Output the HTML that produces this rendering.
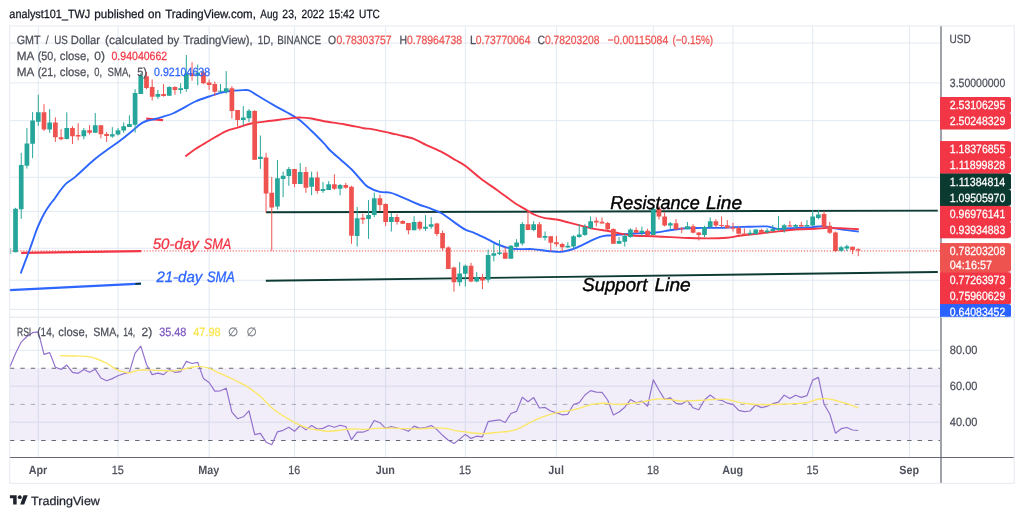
<!DOCTYPE html>
<html lang="en">
<head>
<meta charset="utf-8">
<title>GMT / US Dollar chart - TradingView</title>
<style>
html,body{margin:0;padding:0;background:#fff;}
body{width:1024px;height:517px;overflow:hidden;font-family:"Liberation Sans",sans-serif;}
svg{display:block;}
</style>
</head>
<body>
<svg width="1024" height="517" viewBox="0 0 1024 517" font-family="'Liberation Sans', sans-serif" text-rendering="geometricPrecision">
<rect width="1024" height="517" fill="#fff"/>
<path d="M38.30 26V457 M118.02 26V457 M209.12 26V457 M294.53 26V457 M385.63 26V457 M465.35 26V457 M556.45 26V457 M653.25 26V457 M732.97 26V457 M812.68 26V457 M909.48 26V457 M9.5 43.0H940 M9.5 82.9H940 M9.5 120.7H940 M9.5 177.3H940 M9.5 211.4H940 M9.5 248.3H940 M9.5 280.3H940 M9.5 309.4H940 M9.5 350.3H940 M9.5 386.2H940 M9.5 422.2H940" stroke="#dfe8f1" stroke-width="0.95" fill="none"/>
<rect x="9.5" y="368.3" width="931" height="72.2" fill="#7e57c2" fill-opacity="0.1"/>
<path d="M9.5 317.3H1014" stroke="#e6e9f0" stroke-width="1" fill="none"/>
<path d="M9.5 368.3H940M9.5 440.5H940" stroke="#666973" stroke-width="1.05" stroke-dasharray="4.4 6.033" stroke-dashoffset="-0.4" fill="none"/>
<path d="M9.5 404.4H940" stroke="#a9abb3" stroke-width="1" stroke-dasharray="4.4 6.033" stroke-dashoffset="-0.4" fill="none"/>
<path d="M9.5 250.9H940" stroke="#ef5350" stroke-width="1.7" stroke-dasharray="1.15 1.72" stroke-dashoffset="0.6" stroke-opacity="0.62" fill="none"/>
<path d="M266 212.3L937.8 210.6" stroke="#0d3b33" stroke-width="1.9" fill="none"/>
<path d="M265.8 280.8L937.8 272.0" stroke="#0d3b33" stroke-width="1.9" fill="none"/>
<path d="M21.2 252.8L141 251.2" stroke="#f23645" stroke-width="2.3" fill="none"/>
<path d="M146.2 118.6L163.1 120.2" stroke="#f23645" stroke-width="2.3" fill="none"/>
<path d="M9.5 290.1L141 283.6" stroke="#2d65ff" stroke-width="2.2" fill="none"/>
<path d="M135.3 283.9L141 283.6" stroke="#0d3b33" stroke-width="1.9" fill="none"/>
<path d="M20.7 273.5C21.4 271.6 23.5 265.9 25.0 261.9C26.5 257.9 28.3 253.4 29.7 249.5C31.1 245.6 32.2 242.3 33.5 238.7C34.8 235.1 35.7 231.9 37.4 227.9C39.1 223.9 41.5 218.5 43.6 214.7C45.7 210.8 48.0 207.4 49.8 204.8C51.6 202.2 52.7 201.3 54.4 199.0C56.1 196.7 58.0 193.5 60.0 190.9C62.0 188.3 63.7 185.8 66.3 183.4C68.9 181.0 71.0 180.5 75.6 176.6C80.2 172.7 88.6 164.4 93.8 160.0C99.0 155.6 102.5 153.2 106.9 150.0C111.3 146.8 115.7 144.0 120.0 140.8C124.3 137.6 129.4 133.3 132.6 130.7C135.8 128.1 137.2 126.6 138.9 125.3C140.6 124.0 141.1 123.4 142.6 122.6C144.1 121.8 146.3 121.0 148.0 120.5C149.7 120.0 150.1 120.2 152.7 119.6C155.2 118.9 160.0 117.6 163.3 116.6C166.7 115.6 170.0 114.7 172.8 113.5C175.7 112.3 176.6 111.7 180.4 109.7C184.2 107.7 190.6 103.7 195.4 101.5C200.2 99.3 204.9 97.9 209.1 96.5C213.3 95.1 216.8 93.9 220.6 92.9C224.4 92.0 228.0 91.3 231.9 90.8C235.8 90.3 241.2 90.2 244.0 90.1C246.8 90.0 246.9 89.6 249.0 90.4C251.1 91.2 252.6 92.5 256.7 95.0C260.8 97.5 268.8 102.3 273.7 105.1C278.6 107.9 282.1 109.6 286.3 112.0C290.5 114.4 294.7 116.4 298.9 119.5C303.1 122.6 307.2 126.8 311.4 130.8C315.6 134.8 320.9 140.2 324.0 143.4C327.1 146.6 326.9 147.2 329.7 150.0C332.5 152.8 337.3 156.8 341.0 160.0C344.7 163.2 348.4 166.2 351.7 169.5C355.0 172.8 358.3 177.1 361.0 180.0C363.7 182.9 364.8 184.9 367.9 186.9C371.0 188.9 376.2 191.0 379.9 191.9C383.6 192.8 386.6 191.9 390.0 192.6C393.4 193.3 396.9 195.1 400.0 196.3C403.1 197.6 405.7 198.7 408.8 200.1C411.9 201.5 415.1 203.0 418.9 204.5C422.7 206.0 427.6 207.4 431.4 208.9C435.2 210.4 437.7 211.1 441.5 213.3C445.3 215.5 450.1 219.4 454.1 222.1C458.1 224.8 462.0 227.9 465.4 229.7C468.8 231.5 470.4 231.2 474.2 232.8C477.9 234.4 483.9 237.5 487.9 239.4C491.9 241.3 494.6 243.1 498.0 244.5C501.4 245.9 504.6 247.1 508.0 247.9C511.4 248.7 514.0 248.9 518.1 249.1C522.2 249.3 527.8 248.8 532.7 249.1C537.7 249.4 543.8 250.6 547.8 251.0C551.8 251.4 554.1 251.7 556.6 251.8C559.1 251.9 560.2 252.1 562.9 251.6C565.6 251.1 569.8 250.1 572.9 249.1C576.0 248.1 578.8 246.7 581.7 245.3C584.6 243.9 587.6 242.3 590.5 240.9C593.4 239.5 596.6 238.0 599.3 237.1C602.0 236.2 604.2 235.8 606.9 235.5C609.6 235.2 612.9 235.2 615.7 235.0C618.6 234.8 620.6 234.5 624.0 234.2C627.4 233.9 631.1 233.7 636.3 233.4C641.5 233.1 649.5 233.0 655.2 232.5C660.9 232.0 665.3 230.9 670.3 230.2C675.3 229.5 680.2 228.7 685.4 228.3C690.6 227.9 695.8 228.0 701.7 227.9C707.6 227.8 715.4 228.0 720.6 227.9C725.9 227.8 728.6 227.3 733.2 227.1C737.8 226.9 742.4 226.9 748.0 226.8C753.6 226.7 762.0 226.1 767.0 226.4C772.0 226.8 772.8 228.7 777.7 228.9C782.6 229.2 791.2 228.2 796.6 227.9C802.0 227.7 806.4 227.7 810.4 227.4C814.4 227.1 817.6 226.2 820.5 226.2C823.4 226.1 825.1 226.6 828.0 227.1C830.9 227.6 833.0 228.2 838.1 228.9C843.2 229.7 855.3 231.2 858.8 231.6" stroke="#2d65ff" stroke-width="1.9" fill="none" stroke-linejoin="round"/>
<path d="M185.4 156.5C187.1 155.2 191.5 151.6 195.4 149.0C199.3 146.4 204.1 143.8 209.1 140.8C214.1 137.9 220.8 133.5 225.6 131.3C230.3 129.1 233.1 128.9 237.6 127.6C242.1 126.3 246.7 124.4 252.3 123.3C257.9 122.2 264.3 121.7 271.2 120.8C278.1 119.9 288.8 118.4 293.8 117.9C298.8 117.4 298.5 117.5 301.4 117.6C304.3 117.7 307.6 117.9 311.4 118.5C315.2 119.1 318.6 120.2 324.0 121.2C329.4 122.2 337.4 123.0 344.1 124.2C350.8 125.4 359.6 127.5 364.0 128.3C368.4 129.1 366.3 128.1 370.8 128.9C375.3 129.7 386.2 132.2 390.9 133.2C395.6 134.2 395.2 134.2 398.9 135.1C402.6 136.0 408.7 136.9 413.3 138.6C417.9 140.3 421.6 142.8 426.5 145.1C431.4 147.4 438.1 150.2 442.9 152.7C447.7 155.2 451.6 157.8 455.4 160.0C459.2 162.2 461.3 162.8 465.5 165.9C469.7 169.0 475.4 174.4 480.6 178.4C485.9 182.4 493.1 187.2 497.0 190.0C500.9 192.8 500.8 192.8 503.8 195.0C506.8 197.2 511.1 200.6 515.1 203.2C519.1 205.8 524.6 208.8 527.7 210.7C530.9 212.6 531.3 213.3 534.0 214.5C536.7 215.7 540.2 217.1 544.0 217.9C547.8 218.7 552.4 218.7 556.6 219.5C560.8 220.3 565.0 221.6 569.2 222.7C573.4 223.8 577.5 224.8 581.7 225.8C585.9 226.8 590.1 228.1 594.3 228.9C598.5 229.7 602.7 230.1 606.9 230.8C611.1 231.6 615.2 232.6 619.5 233.4C623.8 234.2 627.1 235.0 632.6 235.5C638.1 236.0 646.4 235.9 652.7 236.2C659.0 236.5 664.2 236.8 670.3 237.1C676.4 237.4 682.9 237.8 689.2 238.0C695.5 238.2 701.7 238.4 708.0 238.4C714.3 238.4 721.6 238.2 726.9 237.8C732.1 237.4 735.2 236.3 739.5 235.7C743.8 235.1 747.3 234.8 752.6 234.2C757.9 233.6 765.1 232.8 771.4 232.1C777.7 231.4 785.0 230.5 790.3 230.0C795.5 229.5 798.7 229.4 802.9 229.2C807.1 229.0 811.2 228.9 815.4 228.7C819.6 228.5 823.8 228.0 828.0 227.9C832.2 227.8 835.5 228.1 840.6 228.3C845.7 228.5 855.8 229.0 858.8 229.2" stroke="#f23645" stroke-width="1.9" fill="none" stroke-linejoin="round"/>
<path d="M15.52 207.8V252.2M21.22 152.8V218.8M26.91 128.1V168.6M32.61 112.0V158.2M38.30 94.8V125.8M49.69 109.1V132.8M66.77 112.3V139.3M83.85 128.1V139.3M95.24 113.0V132.8M112.32 127.1V137.8M118.02 128.1V135.5M123.71 122.4V132.8M129.40 115.3V126.9M135.10 89.2V132.6M140.79 73.3V93.9M157.87 89.9V98.7M169.26 86.2V95.8M180.65 83.3V93.7M186.34 55.0V91.8M197.73 64.5V85.2M220.51 84.1V92.9M226.20 71.1V93.7M243.28 106.1V125.2M248.98 109.1V122.0M260.37 135.5V168.9M277.45 160.1V209.5M283.14 171.6V197.2M288.84 167.0V185.8M300.22 163.0V183.9M311.61 171.6V195.3M323.00 182.1V192.8M328.69 181.1V189.9M340.08 183.9V195.3M357.16 206.9V246.5M368.55 200.1V238.8M374.25 192.6V217.1M391.33 212.9V231.6M414.10 216.2V230.3M425.49 215.2V230.9M431.19 217.1V228.8M459.66 262.1V286.0M465.35 264.6V286.6M476.74 272.1V282.2M488.13 249.5V282.6M493.82 243.8V261.4M499.51 240.1V255.1M510.90 245.1V258.7M516.60 239.1V247.6M522.29 222.0V245.5M533.68 221.2V231.2M545.07 231.5V240.5M567.84 242.2V247.8M573.54 235.2V248.4M579.23 224.2V237.8M584.92 224.2V235.9M590.62 216.4V229.2M619.09 237.1V243.8M624.78 233.4V246.6M630.48 228.3V237.8M641.86 226.7V235.9M653.25 207.6V235.0M670.33 222.0V229.6M687.42 222.0V229.2M704.50 225.8V237.1M710.19 217.4V228.3M750.05 229.6V235.2M755.74 228.9V234.6M767.13 228.3V233.4M772.83 224.9V231.5M778.52 216.1V230.8M784.21 223.9V232.7M795.60 223.9V229.2M806.99 220.1V227.1M812.68 210.1V226.2M818.38 209.8V219.3M841.15 245.9V251.8M846.85 244.7V251.0" stroke="#26a69a" stroke-width="1" fill="none"/>
<path d="M43.99 104.2V130.9M55.38 117.4V141.9M61.08 129.2V140.3M72.46 126.2V144.1M78.16 123.3V140.3M89.55 125.2V134.6M100.93 125.2V138.4M106.63 131.9V141.9M146.49 72.0V89.2M152.18 79.5V100.5M163.57 84.1V96.7M174.96 86.2V94.8M192.04 62.2V80.7M203.43 70.7V84.1M209.12 79.5V89.9M214.81 81.6V95.8M231.90 86.2V118.5M237.59 110.0V126.6M254.67 110.1V160.0M266.06 152.8V212.6M271.75 177.0V250.9M294.53 168.9V187.1M305.92 167.0V192.8M317.31 171.6V193.6M334.39 174.3V189.9M345.78 182.9V188.7M351.47 185.8V243.8M362.86 213.9V224.0M379.94 194.5V210.8M385.63 203.3V225.9M397.02 214.2V224.6M402.72 220.2V223.8M408.41 223.0V234.3M419.80 220.9V230.5M436.88 222.8V236.2M442.57 230.6V250.7M448.27 246.3V269.0M453.96 266.5V291.6M471.04 262.9V282.2M482.43 274.0V289.1M505.21 247.0V258.7M527.98 211.3V230.0M539.37 222.0V237.8M550.76 235.9V251.6M556.45 235.9V246.6M562.15 242.8V251.0M596.31 217.4V226.4M602.01 217.4V223.4M607.70 221.8V230.2M613.39 228.3V243.8M636.17 227.4V233.0M647.56 228.7V235.5M658.95 206.1V219.5M664.64 212.6V226.4M676.03 219.1V230.2M681.72 227.1V233.1M693.11 224.2V233.4M698.80 232.1V240.5M715.89 219.1V227.4M721.58 216.4V227.1M727.27 220.1V228.3M732.97 222.9V231.5M738.66 226.4V234.6M744.36 228.3V235.2M761.44 228.7V233.4M789.91 221.0V226.7M801.30 221.8V226.7M824.07 211.3V228.3M829.77 222.0V234.0M835.46 231.5V252.2M852.54 246.6V254.1M858.24 248.4V256.2" stroke="#ef5350" stroke-width="1" fill="none"/>
<path d="M13.17 208.8h4.7V252.2h-4.7zM18.87 165.1h4.7V209.3h-4.7zM24.56 143.4h4.7V165.7h-4.7zM30.26 120.6h4.7V143.8h-4.7zM35.95 112.3h4.7V121.8h-4.7zM47.34 122.4h4.7V129.6h-4.7zM64.42 128.1h4.7V139.0h-4.7zM81.50 130.2h4.7V136.3h-4.7zM92.89 125.2h4.7V132.8h-4.7zM109.97 134.3h4.7V136.5h-4.7zM115.67 130.2h4.7V134.6h-4.7zM121.36 126.2h4.7V130.5h-4.7zM127.05 124.0h4.7V126.9h-4.7zM132.75 93.1h4.7V124.8h-4.7zM138.44 75.8h4.7V93.9h-4.7zM155.52 93.9h4.7V96.7h-4.7zM166.91 87.0h4.7V95.8h-4.7zM178.30 88.3h4.7V89.9h-4.7zM183.99 73.8h4.7V88.9h-4.7zM195.38 72.6h4.7V75.7h-4.7zM218.16 90.8h4.7V91.8h-4.7zM223.85 88.3h4.7V91.8h-4.7zM240.93 117.6h4.7V120.1h-4.7zM246.63 110.7h4.7V118.3h-4.7zM258.02 156.8h4.7V159.1h-4.7zM275.10 178.3h4.7V206.5h-4.7zM280.79 175.8h4.7V178.9h-4.7zM286.49 168.9h4.7V176.0h-4.7zM297.87 172.0h4.7V183.9h-4.7zM309.26 177.4h4.7V186.8h-4.7zM320.65 189.0h4.7V190.9h-4.7zM326.34 184.2h4.7V189.9h-4.7zM337.73 185.0h4.7V188.7h-4.7zM354.81 218.3h4.7V235.9h-4.7zM366.20 215.0h4.7V219.0h-4.7zM371.90 198.2h4.7V215.0h-4.7zM388.98 217.1h4.7V221.9h-4.7zM411.75 222.1h4.7V230.3h-4.7zM423.14 226.8h4.7V228.8h-4.7zM428.84 224.3h4.7V226.8h-4.7zM457.31 273.4h4.7V282.2h-4.7zM463.00 265.8h4.7V273.8h-4.7zM474.39 277.2h4.7V281.6h-4.7zM485.78 255.1h4.7V279.7h-4.7zM491.47 253.3h4.7V255.8h-4.7zM497.16 252.4h4.7V254.1h-4.7zM508.55 245.7h4.7V258.7h-4.7zM514.25 242.6h4.7V246.7h-4.7zM519.94 223.9h4.7V243.4h-4.7zM531.33 224.2h4.7V230.0h-4.7zM542.72 235.9h4.7V237.8h-4.7zM565.49 245.7h4.7V247.6h-4.7zM571.19 236.2h4.7V246.6h-4.7zM576.88 234.4h4.7V236.9h-4.7zM582.57 227.1h4.7V235.0h-4.7zM588.27 221.2h4.7V227.9h-4.7zM616.74 241.1h4.7V243.8h-4.7zM622.43 236.1h4.7V241.8h-4.7zM628.13 229.6h4.7V236.9h-4.7zM639.51 230.8h4.7V233.1h-4.7zM650.90 208.8h4.7V235.0h-4.7zM667.98 223.3h4.7V225.4h-4.7zM685.07 226.2h4.7V229.2h-4.7zM702.15 227.1h4.7V235.0h-4.7zM707.84 221.2h4.7V227.1h-4.7zM747.70 232.7h4.7V234.2h-4.7zM753.39 229.6h4.7V234.0h-4.7zM764.78 230.6h4.7V232.2h-4.7zM770.48 228.9h4.7V231.1h-4.7zM776.17 228.3h4.7V230.0h-4.7zM781.86 225.2h4.7V229.6h-4.7zM793.25 224.9h4.7V226.7h-4.7zM804.64 224.9h4.7V226.4h-4.7zM810.33 216.4h4.7V225.6h-4.7zM816.03 214.5h4.7V218.0h-4.7zM838.80 247.2h4.7V250.7h-4.7zM844.50 246.3h4.7V248.4h-4.7z" fill="#26a69a"/>
<path d="M41.64 112.3h4.7V129.6h-4.7zM53.03 122.4h4.7V137.2h-4.7zM58.73 137.2h4.7V139.3h-4.7zM70.11 128.1h4.7V136.3h-4.7zM75.81 135.0h4.7V136.5h-4.7zM87.20 130.2h4.7V132.8h-4.7zM98.58 125.2h4.7V134.3h-4.7zM104.28 134.0h4.7V136.1h-4.7zM144.14 76.3h4.7V87.9h-4.7zM149.83 87.0h4.7V96.7h-4.7zM161.22 93.9h4.7V96.1h-4.7zM172.61 87.0h4.7V89.9h-4.7zM189.69 73.6h4.7V76.1h-4.7zM201.08 72.6h4.7V83.3h-4.7zM206.77 82.6h4.7V84.9h-4.7zM212.46 84.1h4.7V91.8h-4.7zM229.55 88.3h4.7V110.9h-4.7zM235.24 110.1h4.7V120.1h-4.7zM252.32 111.1h4.7V159.8h-4.7zM263.71 157.4h4.7V193.4h-4.7zM269.40 192.8h4.7V207.6h-4.7zM292.18 168.9h4.7V183.9h-4.7zM303.57 172.0h4.7V187.7h-4.7zM314.96 177.4h4.7V190.9h-4.7zM332.04 184.2h4.7V188.7h-4.7zM343.43 185.0h4.7V187.7h-4.7zM349.12 186.8h4.7V235.8h-4.7zM360.51 217.7h4.7V219.6h-4.7zM377.59 198.2h4.7V204.9h-4.7zM383.28 204.1h4.7V221.9h-4.7zM394.67 217.1h4.7V221.9h-4.7zM400.37 220.9h4.7V223.8h-4.7zM406.06 223.0h4.7V230.3h-4.7zM417.45 221.9h4.7V228.8h-4.7zM434.53 223.6h4.7V234.1h-4.7zM440.22 233.1h4.7V248.2h-4.7zM445.92 247.6h4.7V269.0h-4.7zM451.61 267.5h4.7V282.2h-4.7zM468.69 265.8h4.7V281.6h-4.7zM480.08 277.2h4.7V280.5h-4.7zM502.86 252.4h4.7V258.7h-4.7zM525.63 224.2h4.7V230.0h-4.7zM537.02 224.2h4.7V237.8h-4.7zM548.41 236.2h4.7V242.8h-4.7zM554.10 242.2h4.7V244.3h-4.7zM559.80 244.0h4.7V247.2h-4.7zM593.96 220.8h4.7V222.4h-4.7zM599.66 221.8h4.7V223.4h-4.7zM605.35 222.9h4.7V229.2h-4.7zM611.04 228.9h4.7V243.8h-4.7zM633.82 230.0h4.7V232.7h-4.7zM645.21 230.8h4.7V234.9h-4.7zM656.60 208.8h4.7V216.6h-4.7zM662.29 216.4h4.7V225.6h-4.7zM673.68 223.3h4.7V229.2h-4.7zM679.37 228.3h4.7V229.3h-4.7zM690.76 226.2h4.7V232.7h-4.7zM696.45 232.5h4.7V235.0h-4.7zM713.54 221.2h4.7V225.4h-4.7zM719.23 224.9h4.7V225.9h-4.7zM724.92 225.2h4.7V228.3h-4.7zM730.62 227.4h4.7V228.7h-4.7zM736.31 227.9h4.7V233.7h-4.7zM742.01 233.4h4.7V235.0h-4.7zM759.09 230.0h4.7V232.7h-4.7zM787.56 225.2h4.7V226.4h-4.7zM798.95 224.9h4.7V226.4h-4.7zM821.72 214.1h4.7V227.1h-4.7zM827.42 225.8h4.7V232.7h-4.7zM833.11 232.5h4.7V251.0h-4.7zM850.19 246.8h4.7V249.9h-4.7zM855.89 249.3h4.7V250.6h-4.7z" fill="#ef5350"/>
<rect x="9.5" y="248.5" width="1.6" height="5.5" fill="#26a69a" opacity="0.6"/>
<polyline points="9.8,367.0 15.5,353.4 21.2,342.1 26.9,336.5 32.6,332.7 38.3,331.8 44.0,354.4 49.7,352.6 55.4,367.3 61.1,369.4 66.8,365.1 72.5,372.3 78.2,373.3 83.9,369.5 89.5,372.3 95.2,369.2 100.9,378.0 106.6,380.8 112.3,378.6 118.0,375.8 123.7,373.7 129.4,372.1 135.1,353.2 140.8,346.1 146.5,364.5 152.2,374.6 157.9,373.1 163.6,374.6 169.3,369.6 175.0,372.3 180.6,371.7 186.3,361.4 192.0,363.5 197.7,362.4 203.4,378.4 209.1,382.5 214.8,391.2 220.5,390.8 226.2,388.2 231.9,412.1 237.6,418.7 243.3,416.8 249.0,410.8 254.7,434.7 260.4,433.4 266.1,442.2 271.8,444.8 277.4,431.8 283.1,430.3 288.8,427.2 294.5,431.3 300.2,425.5 305.9,429.9 311.6,425.5 317.3,429.0 323.0,428.4 328.7,425.5 334.4,427.2 340.1,425.3 345.8,426.5 351.5,439.7 357.2,432.2 362.9,432.2 368.6,430.0 374.2,420.5 379.9,422.7 385.6,428.4 391.3,426.5 397.0,428.0 402.7,429.0 408.4,431.3 414.1,426.1 419.8,428.4 425.5,427.5 431.2,425.5 436.9,429.6 442.6,435.3 448.3,440.3 454.0,443.5 459.7,439.1 465.4,434.4 471.0,438.4 476.7,436.2 482.4,436.8 488.1,421.7 493.8,420.6 499.5,419.8 505.2,422.5 510.9,413.5 516.6,411.4 522.3,397.3 528.0,401.7 533.7,397.6 539.4,408.0 545.1,407.4 550.8,411.0 556.5,412.9 562.1,414.8 567.8,414.3 573.5,404.5 579.2,402.6 584.9,395.0 590.6,390.6 596.3,392.1 602.0,392.3 607.7,400.0 613.4,415.0 619.1,412.0 624.8,407.2 630.5,399.6 636.2,402.8 641.9,401.1 647.6,406.2 653.3,379.9 658.9,390.0 664.6,399.4 670.3,397.8 676.0,403.4 681.7,404.0 687.4,400.5 693.1,407.8 698.8,409.7 704.5,400.0 710.2,395.0 715.9,399.4 721.6,400.3 727.3,403.2 733.0,404.4 738.7,410.3 744.4,411.6 750.0,411.0 755.7,404.9 761.4,407.6 767.1,406.3 772.8,403.7 778.5,402.2 784.2,395.2 789.9,398.6 795.6,395.2 801.3,397.4 807.0,395.6 812.7,380.1 818.4,377.4 824.1,404.3 829.8,414.0 835.5,433.2 841.2,428.7 846.8,427.5 852.5,430.0 858.2,430.5" stroke="#9272cd" stroke-width="1.2" fill="none" stroke-linejoin="round"/>
<path d="M60.1 355.6C62.7 355.7 70.8 355.8 75.4 356.0C80.1 356.2 84.6 356.2 88.0 356.6C91.4 357.0 92.4 357.4 95.6 358.5C98.8 359.6 103.6 361.7 106.9 363.5C110.2 365.3 113.5 368.0 115.7 369.2C117.9 370.4 117.8 370.2 120.0 370.8C122.2 371.4 125.7 372.8 128.8 372.7C132.0 372.6 135.1 370.6 138.9 370.2C142.7 369.8 147.2 370.1 151.4 370.2C155.6 370.3 159.8 370.5 164.0 370.6C168.2 370.7 172.4 371.1 176.6 370.6C180.8 370.2 185.6 368.6 189.2 367.9C192.8 367.2 194.9 366.4 198.0 366.4C201.1 366.4 204.2 366.7 208.0 367.9C211.8 369.1 216.3 371.8 220.6 373.7C224.8 375.6 229.0 377.3 233.5 379.5C238.0 381.7 243.2 384.1 247.7 386.9C252.1 389.7 256.4 393.1 260.2 396.3C264.0 399.6 267.1 403.6 270.3 406.4C273.5 409.2 275.8 411.0 279.1 413.3C282.5 415.6 286.6 418.1 290.4 420.2C294.2 422.3 298.3 424.5 301.7 425.9C305.1 427.3 307.4 428.1 310.5 428.8C313.6 429.5 317.7 429.9 320.6 430.3C323.5 430.7 325.2 431.3 328.1 431.3C331.0 431.3 334.6 430.9 338.2 430.5C341.8 430.1 345.5 429.2 350.0 429.0C354.5 428.8 360.9 429.4 365.1 429.3C369.3 429.2 371.0 428.6 375.2 428.4C379.4 428.2 385.3 428.1 390.3 428.1C395.3 428.1 400.2 428.5 405.4 428.6C410.6 428.7 416.9 428.9 421.7 428.8C426.5 428.7 430.1 427.8 434.3 427.8C438.5 427.8 443.1 428.1 446.9 428.6C450.7 429.1 453.4 430.3 456.9 430.9C460.4 431.5 465.4 431.9 468.0 432.2C470.6 432.5 470.0 432.6 472.6 432.8C475.2 433.1 480.1 433.8 483.9 433.7C487.7 433.6 491.2 432.9 495.2 432.5C499.2 432.1 504.2 432.0 507.8 431.5C511.4 431.0 513.7 430.4 516.6 429.4C519.5 428.3 522.3 426.8 525.4 425.2C528.5 423.6 531.6 421.5 535.4 419.8C539.2 418.1 543.8 416.5 548.0 415.2C552.2 413.9 557.2 412.5 560.6 411.8C564.0 411.1 565.2 411.3 568.1 410.8C571.0 410.3 574.9 409.5 578.2 408.6C581.5 407.7 585.6 406.0 588.0 405.3C590.4 404.6 589.8 404.7 592.6 404.3C595.5 403.9 600.9 403.2 605.1 403.2C609.3 403.2 613.5 404.4 617.7 404.4C621.9 404.4 626.1 403.8 630.3 403.4C634.5 403.0 639.1 402.4 642.9 401.8C646.7 401.2 650.0 400.1 652.9 399.6C655.8 399.1 657.6 398.8 660.5 398.8C663.4 398.8 667.1 399.2 670.5 399.6C673.9 400.0 676.8 400.9 680.6 401.1C684.4 401.3 688.6 400.8 693.2 400.6C697.8 400.4 704.8 400.0 708.0 399.8C711.2 399.6 709.5 399.7 712.6 399.6C715.7 399.5 722.2 398.9 726.4 399.3C730.6 399.7 733.7 401.4 737.7 402.2C741.7 403.0 746.1 403.6 750.3 404.0C754.5 404.4 758.7 404.6 762.9 404.7C767.1 404.8 771.2 404.4 775.4 404.3C779.6 404.2 783.8 404.0 788.0 403.8C792.2 403.6 797.2 403.6 800.6 403.4C804.0 403.2 805.1 403.1 808.1 402.4C811.1 401.7 815.0 399.6 818.5 399.0C822.0 398.4 825.7 398.5 828.9 398.9C832.1 399.2 834.6 400.3 837.7 401.1C840.9 401.9 844.4 402.8 847.8 403.9C851.2 405.0 856.5 407.2 858.2 407.9" stroke="#fbe765" stroke-width="1.35" fill="none" stroke-linejoin="round"/>
<text y="208.50" font-size="18.6" fill="#000" stroke="#000" stroke-width="0.4" font-style="italic"><tspan x="610.30" textLength="89.40" lengthAdjust="spacingAndGlyphs">Resistance</tspan> <tspan x="706.00" textLength="36.00" lengthAdjust="spacingAndGlyphs">Line</tspan></text>
<text y="290.60" font-size="18.6" fill="#000" stroke="#000" stroke-width="0.4" font-style="italic"><tspan x="582.30" textLength="65.00" lengthAdjust="spacingAndGlyphs">Support</tspan> <tspan x="654.50" textLength="36.20" lengthAdjust="spacingAndGlyphs">Line</tspan></text>
<text y="249.10" font-size="15.2" fill="#f23645" stroke="#f23645" stroke-width="0.3" font-style="italic"><tspan x="152.70" textLength="46.20" lengthAdjust="spacingAndGlyphs">50-day</tspan> <tspan x="203.70" textLength="27.50" lengthAdjust="spacingAndGlyphs">SMA</tspan></text>
<text y="281.80" font-size="15.2" fill="#2d65ff" stroke="#2d65ff" stroke-width="0.3" font-style="italic"><tspan x="156.40" textLength="45.90" lengthAdjust="spacingAndGlyphs">21-day</tspan> <tspan x="206.90" textLength="28.10" lengthAdjust="spacingAndGlyphs">SMA</tspan></text>
<rect x="940" y="26" width="74" height="431" fill="#fff"/>
<path d="M9.5 317.3H1014" stroke="#e6e9f0" stroke-width="1" fill="none"/>
<path d="M941 26V483" stroke="#a0a2a9" stroke-width="2" fill="none"/>
<path d="M9.7 457.5H1014" stroke="#666974" stroke-width="1.2" fill="none"/>
<rect x="9.7" y="25.9" width="1004.5" height="457.4" fill="none" stroke="#e6e9f0" stroke-width="1"/>
<path d="M940.2 97.0H1009.3q1.7 0 1.7 1.7V111.3q0 1.7 -1.7 1.7H940.2z" fill="#f23645"/>
<rect x="940.2" y="97.0" width="68" height="16.5" fill="#f23645"/>
<text x="949.80" y="109.25" font-size="12.0" fill="#fff" textLength="55.50" lengthAdjust="spacingAndGlyphs" stroke="#fff" stroke-width="0.25" word-spacing="1.6">2.53106295</text>
<path d="M940.2 113.0H1009.3q1.7 0 1.7 1.7V127.3q0 1.7 -1.7 1.7H940.2z" fill="#f23645"/>
<rect x="940.2" y="113.0" width="68" height="16.5" fill="#f23645"/>
<text x="949.80" y="125.25" font-size="12.0" fill="#fff" textLength="55.50" lengthAdjust="spacingAndGlyphs" stroke="#fff" stroke-width="0.25" word-spacing="1.6">2.50248329</text>
<path d="M940.2 141.2H1009.3q1.7 0 1.7 1.7V155.5q0 1.7 -1.7 1.7H940.2z" fill="#f23645"/>
<rect x="940.2" y="141.2" width="68" height="16.5" fill="#f23645"/>
<text x="949.80" y="153.45" font-size="12.0" fill="#fff" textLength="55.50" lengthAdjust="spacingAndGlyphs" stroke="#fff" stroke-width="0.25" word-spacing="1.6">1.18376855</text>
<path d="M940.2 157.2H1009.3q1.7 0 1.7 1.7V171.5q0 1.7 -1.7 1.7H940.2z" fill="#f23645"/>
<rect x="940.2" y="157.2" width="68" height="16.5" fill="#f23645"/>
<text x="949.80" y="169.45" font-size="12.0" fill="#fff" textLength="55.50" lengthAdjust="spacingAndGlyphs" stroke="#fff" stroke-width="0.25" word-spacing="1.6">1.11899828</text>
<path d="M940.2 173.7H1009.3q1.7 0 1.7 1.7V188.0q0 1.7 -1.7 1.7H940.2z" fill="#0b3a30"/>
<rect x="940.2" y="173.7" width="68" height="16.5" fill="#0b3a30"/>
<text x="949.80" y="185.95" font-size="12.0" fill="#fff" textLength="55.50" lengthAdjust="spacingAndGlyphs" stroke="#fff" stroke-width="0.25" word-spacing="1.6">1.11384814</text>
<path d="M940.2 189.8H1009.3q1.7 0 1.7 1.7V204.1q0 1.7 -1.7 1.7H940.2z" fill="#0b3a30"/>
<rect x="940.2" y="189.8" width="68" height="16.5" fill="#0b3a30"/>
<text x="949.80" y="202.05" font-size="12.0" fill="#fff" textLength="55.50" lengthAdjust="spacingAndGlyphs" stroke="#fff" stroke-width="0.25" word-spacing="1.6">1.09505970</text>
<path d="M940.2 205.9H1009.3q1.7 0 1.7 1.7V220.2q0 1.7 -1.7 1.7H940.2z" fill="#f23645"/>
<rect x="940.2" y="205.9" width="68" height="16.5" fill="#f23645"/>
<text x="949.80" y="218.15" font-size="12.0" fill="#fff" textLength="55.50" lengthAdjust="spacingAndGlyphs" stroke="#fff" stroke-width="0.25" word-spacing="1.6">0.96976141</text>
<path d="M940.2 221.8H1009.3q1.7 0 1.7 1.7V236.1q0 1.7 -1.7 1.7H940.2z" fill="#f23645"/>
<rect x="940.2" y="221.8" width="68" height="16.5" fill="#f23645"/>
<text x="949.80" y="234.05" font-size="12.0" fill="#fff" textLength="55.50" lengthAdjust="spacingAndGlyphs" stroke="#fff" stroke-width="0.25" word-spacing="1.6">0.93934883</text>
<path d="M940.2 272.2H1009.3q1.7 0 1.7 1.7V286.5q0 1.7 -1.7 1.7H940.2z" fill="#f23645"/>
<rect x="940.2" y="272.2" width="68" height="16.5" fill="#f23645"/>
<text x="949.80" y="284.45" font-size="12.0" fill="#fff" textLength="55.50" lengthAdjust="spacingAndGlyphs" stroke="#fff" stroke-width="0.25" word-spacing="1.6">0.77263973</text>
<path d="M940.2 288.2H1009.3q1.7 0 1.7 1.7V302.5q0 1.7 -1.7 1.7H940.2z" fill="#f23645"/>
<rect x="940.2" y="288.2" width="68" height="16.5" fill="#f23645"/>
<text x="949.80" y="300.45" font-size="12.0" fill="#fff" textLength="55.50" lengthAdjust="spacingAndGlyphs" stroke="#fff" stroke-width="0.25" word-spacing="1.6">0.75960629</text>
<path d="M940.2 304.2H1009.3q1.7 0 1.7 1.7V315.6q0 1.7 -1.7 1.7H940.2z" fill="#2962ff"/>
<rect x="940.2" y="304.2" width="68" height="13.6" fill="#2962ff"/>
<text x="949.80" y="316.45" font-size="12.0" fill="#fff" textLength="55.50" lengthAdjust="spacingAndGlyphs" stroke="#fff" stroke-width="0.25" word-spacing="1.6">0.64083452</text>
<path d="M940.2 243.2H1009.3q1.7 0 1.7 1.7V270.1q0 1.7 -1.7 1.7H940.2z" fill="#ef5350"/>
<rect x="940.2" y="243.2" width="68" height="29.1" fill="#ef5350"/>
<text x="949.80" y="255.35" font-size="12.0" fill="#fff" textLength="55.50" lengthAdjust="spacingAndGlyphs" stroke="#fff" stroke-width="0.25" word-spacing="1.6">0.78203208</text>
<text x="949.80" y="268.85" font-size="12.0" fill="#fff" textLength="42.20" lengthAdjust="spacingAndGlyphs" stroke="#fff" stroke-width="0.25" word-spacing="1.6">04:16:57</text>
<rect x="940" y="317.3" width="73.5" height="3.2" fill="#fff"/>
<path d="M941 317.3V322" stroke="#a0a2a9" stroke-width="2" fill="none"/>
<path d="M941 317.3H1014" stroke="#e6e9f0" stroke-width="1" fill="none"/>
<text x="949.80" y="87.15" font-size="12.0" fill="#4c4f5a" textLength="55.50" lengthAdjust="spacingAndGlyphs" stroke="#4c4f5a" stroke-width="0.25" word-spacing="1.6">3.50000000</text>
<text x="949.60" y="42.75" font-size="12.0" fill="#4c4f5a" textLength="21.10" lengthAdjust="spacingAndGlyphs" stroke="#4c4f5a" stroke-width="0.25" word-spacing="1.6">USD</text>
<text x="949.80" y="354.15" font-size="12.0" fill="#4c4f5a" textLength="27.60" lengthAdjust="spacingAndGlyphs" stroke="#4c4f5a" stroke-width="0.25" word-spacing="1.6">80.00</text>
<text x="949.80" y="390.05" font-size="12.0" fill="#4c4f5a" textLength="27.60" lengthAdjust="spacingAndGlyphs" stroke="#4c4f5a" stroke-width="0.25" word-spacing="1.6">60.00</text>
<text x="949.80" y="426.15" font-size="12.0" fill="#4c4f5a" textLength="27.60" lengthAdjust="spacingAndGlyphs" stroke="#4c4f5a" stroke-width="0.25" word-spacing="1.6">40.00</text>
<text x="38.00" y="473.80" font-size="12.0" fill="#50535e" text-anchor="middle" font-weight="bold" word-spacing="1.6" transform="translate(38.30 0) scale(0.9 1) translate(-38.30 0)">Apr</text>
<text x="117.72" y="473.80" font-size="12.0" fill="#50535e" text-anchor="middle" stroke="#50535e" stroke-width="0.25" word-spacing="1.6" transform="translate(118.02 0) scale(0.9 1) translate(-118.02 0)">15</text>
<text x="208.82" y="473.80" font-size="12.0" fill="#50535e" text-anchor="middle" font-weight="bold" word-spacing="1.6" transform="translate(209.12 0) scale(0.9 1) translate(-209.12 0)">May</text>
<text x="294.23" y="473.80" font-size="12.0" fill="#50535e" text-anchor="middle" stroke="#50535e" stroke-width="0.25" word-spacing="1.6" transform="translate(294.53 0) scale(0.9 1) translate(-294.53 0)">16</text>
<text x="385.33" y="473.80" font-size="12.0" fill="#50535e" text-anchor="middle" font-weight="bold" word-spacing="1.6" transform="translate(385.63 0) scale(0.9 1) translate(-385.63 0)">Jun</text>
<text x="465.05" y="473.80" font-size="12.0" fill="#50535e" text-anchor="middle" stroke="#50535e" stroke-width="0.25" word-spacing="1.6" transform="translate(465.35 0) scale(0.9 1) translate(-465.35 0)">15</text>
<text x="556.15" y="473.80" font-size="12.0" fill="#50535e" text-anchor="middle" font-weight="bold" word-spacing="1.6" transform="translate(556.45 0) scale(0.9 1) translate(-556.45 0)">Jul</text>
<text x="652.95" y="473.80" font-size="12.0" fill="#50535e" text-anchor="middle" stroke="#50535e" stroke-width="0.25" word-spacing="1.6" transform="translate(653.25 0) scale(0.9 1) translate(-653.25 0)">18</text>
<text x="732.67" y="473.80" font-size="12.0" fill="#50535e" text-anchor="middle" font-weight="bold" word-spacing="1.6" transform="translate(732.97 0) scale(0.9 1) translate(-732.97 0)">Aug</text>
<text x="812.38" y="473.80" font-size="12.0" fill="#50535e" text-anchor="middle" stroke="#50535e" stroke-width="0.25" word-spacing="1.6" transform="translate(812.68 0) scale(0.9 1) translate(-812.68 0)">15</text>
<text x="909.18" y="473.80" font-size="12.0" fill="#50535e" text-anchor="middle" font-weight="bold" word-spacing="1.6" transform="translate(909.48 0) scale(0.9 1) translate(-909.48 0)">Sep</text>
<text y="18.30" font-size="12.0" fill="#131722" stroke="#131722" stroke-width="0.25"><tspan x="9.35" textLength="80.90" lengthAdjust="spacingAndGlyphs">analyst101_TWJ</tspan> <tspan x="94.25" textLength="49.80" lengthAdjust="spacingAndGlyphs">published</tspan> <tspan x="147.95" textLength="13.00" lengthAdjust="spacingAndGlyphs">on</tspan> <tspan x="165.15" textLength="90.70" lengthAdjust="spacingAndGlyphs">TradingView.com,</tspan> <tspan x="260.25" textLength="17.70" lengthAdjust="spacingAndGlyphs">Aug</tspan> <tspan x="282.35" textLength="14.50" lengthAdjust="spacingAndGlyphs">23,</tspan> <tspan x="301.45" textLength="22.80" lengthAdjust="spacingAndGlyphs">2022</tspan> <tspan x="328.65" textLength="25.90" lengthAdjust="spacingAndGlyphs">15:42</tspan> <tspan x="359.05" textLength="20.90" lengthAdjust="spacingAndGlyphs">UTC</tspan></text>
<text y="43.60" font-size="12.0" fill="#4c4f5a" stroke="#4c4f5a" stroke-width="0.25"><tspan x="16.75" textLength="23.70" lengthAdjust="spacingAndGlyphs">GMT</tspan> <tspan x="45.60" stroke="none">/</tspan> <tspan x="54.25" textLength="13.60" lengthAdjust="spacingAndGlyphs">US</tspan> <tspan x="70.85" textLength="29.20" lengthAdjust="spacingAndGlyphs">Dollar</tspan> <tspan x="105.05" textLength="58.50" lengthAdjust="spacingAndGlyphs">(calculated</tspan> <tspan x="167.15" textLength="12.00" lengthAdjust="spacingAndGlyphs">by</tspan> <tspan x="183.15" textLength="69.60" lengthAdjust="spacingAndGlyphs">TradingView),</tspan> <tspan x="257.75" textLength="15.40" lengthAdjust="spacingAndGlyphs">1D,</tspan> <tspan x="277.25" textLength="43.70" lengthAdjust="spacingAndGlyphs">BINANCE</tspan></text>
<text x="327.90" y="43.60" font-size="12.0" fill="#4c4f5a" textLength="8.10" lengthAdjust="spacingAndGlyphs" stroke="#4c4f5a" stroke-width="0.25" word-spacing="1.6">O</text>
<text x="336.50" y="43.60" font-size="12.0" fill="#ef5350" textLength="55.10" lengthAdjust="spacingAndGlyphs" stroke="#ef5350" stroke-width="0.25" word-spacing="1.6">0.78303757</text>
<text x="399.60" y="43.60" font-size="12.0" fill="#4c4f5a" textLength="7.60" lengthAdjust="spacingAndGlyphs" stroke="#4c4f5a" stroke-width="0.25" word-spacing="1.6">H</text>
<text x="407.00" y="43.60" font-size="12.0" fill="#ef5350" textLength="55.10" lengthAdjust="spacingAndGlyphs" stroke="#ef5350" stroke-width="0.25" word-spacing="1.6">0.78964738</text>
<text x="469.90" y="43.60" font-size="12.0" fill="#4c4f5a" textLength="6.10" lengthAdjust="spacingAndGlyphs" stroke="#4c4f5a" stroke-width="0.25" word-spacing="1.6">L</text>
<text x="475.70" y="43.60" font-size="12.0" fill="#ef5350" textLength="54.70" lengthAdjust="spacingAndGlyphs" stroke="#ef5350" stroke-width="0.25" word-spacing="1.6">0.73770064</text>
<text x="537.60" y="43.60" font-size="12.0" fill="#4c4f5a" textLength="7.60" lengthAdjust="spacingAndGlyphs" stroke="#4c4f5a" stroke-width="0.25" word-spacing="1.6">C</text>
<text x="545.00" y="43.60" font-size="12.0" fill="#ef5350" textLength="54.50" lengthAdjust="spacingAndGlyphs" stroke="#ef5350" stroke-width="0.25" word-spacing="1.6">0.78203208</text>
<text x="607.60" y="43.60" font-size="12.0" fill="#ef5350" textLength="60.60" lengthAdjust="spacingAndGlyphs" stroke="#ef5350" stroke-width="0.25" word-spacing="1.6">−0.00115084</text>
<text x="672.50" y="43.60" font-size="12.0" fill="#ef5350" textLength="40.60" lengthAdjust="spacingAndGlyphs" stroke="#ef5350" stroke-width="0.25" word-spacing="1.6">(−0.15%)</text>
<text y="59.70" font-size="12.0" fill="#4c4f5a" stroke="#4c4f5a" stroke-width="0.25"><tspan x="16.75" textLength="16.90" lengthAdjust="spacingAndGlyphs">MA</tspan> <tspan x="37.65" textLength="18.50" lengthAdjust="spacingAndGlyphs">(50,</tspan> <tspan x="59.75" textLength="29.60" lengthAdjust="spacingAndGlyphs">close,</tspan> <tspan x="94.25" textLength="10.70" lengthAdjust="spacingAndGlyphs">0)</tspan></text>
<text x="111.50" y="59.70" font-size="12.0" fill="#f23645" textLength="55.70" lengthAdjust="spacingAndGlyphs" stroke="#f23645" stroke-width="0.25" word-spacing="1.6">0.94040662</text>
<text y="75.80" font-size="12.0" fill="#4c4f5a" stroke="#4c4f5a" stroke-width="0.25"><tspan x="16.75" textLength="16.90" lengthAdjust="spacingAndGlyphs">MA</tspan> <tspan x="37.65" textLength="18.50" lengthAdjust="spacingAndGlyphs">(21,</tspan> <tspan x="59.75" textLength="29.60" lengthAdjust="spacingAndGlyphs">close,</tspan> <tspan x="94.25" textLength="7.80" lengthAdjust="spacingAndGlyphs">0,</tspan> <tspan x="107.55" textLength="23.40" lengthAdjust="spacingAndGlyphs">SMA,</tspan> <tspan x="137.25" textLength="9.70" lengthAdjust="spacingAndGlyphs">5)</tspan></text>
<text x="154.10" y="75.80" font-size="12.0" fill="#2d65ff" textLength="56.00" lengthAdjust="spacingAndGlyphs" stroke="#2d65ff" stroke-width="0.25" word-spacing="1.6">0.92104638</text>
<text y="335.90" font-size="12.0" fill="#4c4f5a" stroke="#4c4f5a" stroke-width="0.25"><tspan x="16.95" textLength="14.30" lengthAdjust="spacingAndGlyphs">RSI</tspan> <tspan x="37.25" textLength="17.30" lengthAdjust="spacingAndGlyphs">(14,</tspan> <tspan x="58.35" textLength="29.50" lengthAdjust="spacingAndGlyphs">close,</tspan> <tspan x="93.25" textLength="26.00" lengthAdjust="spacingAndGlyphs">SMA,</tspan> <tspan x="123.35" textLength="11.90" lengthAdjust="spacingAndGlyphs">14,</tspan> <tspan x="141.55" textLength="10.70" lengthAdjust="spacingAndGlyphs">2)</tspan></text>
<text x="159.20" y="335.90" font-size="12.0" fill="#7e57c2" textLength="27.20" lengthAdjust="spacingAndGlyphs" stroke="#7e57c2" stroke-width="0.25" word-spacing="1.6">35.48</text>
<text x="193.25" y="335.90" font-size="12.0" fill="#fce54f" textLength="27.35" lengthAdjust="spacingAndGlyphs" stroke="#fce54f" stroke-width="0.25" word-spacing="1.6">47.98</text>
<text x="228.00" y="335.90" font-size="12.0" fill="#787b86" textLength="10.20" lengthAdjust="spacingAndGlyphs" stroke="#787b86" stroke-width="0.25" word-spacing="1.6">∅</text>
<text x="246.40" y="335.90" font-size="12.0" fill="#787b86" textLength="10.35" lengthAdjust="spacingAndGlyphs" stroke="#787b86" stroke-width="0.25" word-spacing="1.6">∅</text>
<g fill="#1e222d"><path d="M9.9 495.2H16.65V504.5H13.15V498.3H9.9z"/><circle cx="19.75" cy="497.15" r="1.95"/><path d="M23.5 495.2H27.7L24.2 504.5H20.2z"/></g>
<text x="31.10" y="504.60" font-size="12.0" fill="#1e222d" textLength="68.80" lengthAdjust="spacingAndGlyphs" stroke="#1e222d" stroke-width="0.25" word-spacing="1.6">TradingView</text>
</svg>
</body>
</html>
